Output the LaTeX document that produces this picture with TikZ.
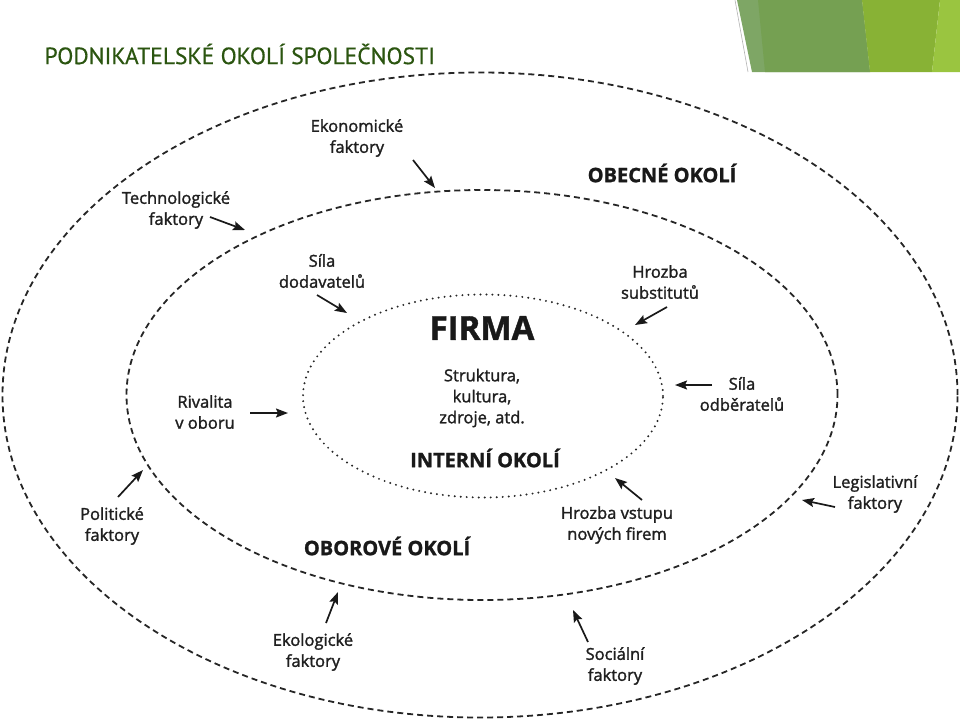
\documentclass[tikz,border=0pt]{standalone}
\usepackage{fontspec}
\setmainfont{Open Sans}
\newfontfamily\labelfont[FakeBold=1.6, BoldFeatures={FakeBold=1.2}]{Open Sans}
\newfontfamily\titlefont[FakeBold=0.5]{PT Sans}
\usetikzlibrary{shapes.geometric, arrows.meta, positioning}

\definecolor{titlegreen}{HTML}{2B5510}
\definecolor{band-a}{HTML}{7EA665}
\definecolor{band-b}{HTML}{75A052}
\definecolor{band-c}{HTML}{88B235}
\definecolor{band-d}{HTML}{9AC540}

\begin{document}
\begin{tikzpicture}[x=1pt, y=-1pt,
zone/.style={ellipse, draw=black!85, line width=1.8pt, inner sep=0pt, outer sep=0pt},
zone-dashed/.style={zone, dash pattern=on 6pt off 4pt},
zone-dotted/.style={zone, line width=2.2pt, dash pattern=on 0pt off 6pt, line cap=round},
factor/.style={align=center, font=\labelfont\fontsize{16.5}{21}\selectfont, text=black!88, inner sep=1pt},
heading/.style={font=\labelfont\bfseries\fontsize{20}{22}\selectfont, text=black!90},
line/.style={draw, black!90, line width=1.7pt, -{Stealth[length=12pt, width=9pt, inset=2pt]}}
]
\useasboundingbox (0,0) rectangle (960,720);

% green bands, top right
\fill [band-a] (737,0) -- (752,72) -- (870,72) -- (862,0) -- cycle;
\fill [band-b] (758,0) -- (765,72) -- (870,72) -- (862,0) -- cycle;
\fill [band-c] (862,0) -- (870,72) -- (932,72) -- (940,0) -- cycle;
\fill [band-d] (940,0) -- (932,72) -- (960,72) -- (960,0) -- cycle;
\draw [black!30, line width=0.6pt] (735,0) -- (748,72);

\node [anchor=west, text=titlegreen, font=\titlefont\fontsize{23.5}{25}\selectfont] (title) at (41,54) {PODNIKATELSKÉ OKOLÍ SPOLEČNOSTI};

% three zones
\node [zone-dashed, minimum width=955, minimum height=645] (obecne) at (480,395) {};
\node [zone-dashed, minimum width=711, minimum height=410] (oborove) at (482,395) {};
\node [zone-dotted, minimum width=360, minimum height=203] (interni) at (483,396) {};

\node [heading] (obecne-h) at (662,173) {OBECNÉ OKOLÍ};
\node [heading] (oborove-h) at (387,546) {OBOROVÉ OKOLÍ};
\node [heading] (interni-h) at (485,458) {INTERNÍ OKOLÍ};
\node [font=\labelfont\bfseries\fontsize{33}{35}\selectfont, text=black!90] (firma) at (482,328) {FIRMA};
\node [factor] (firma-body) at (482,398) {Struktura,\\kultura,\\zdroje, atd.};

% factors
\node [factor] (ekon) at (357,138) {Ekonomické\\faktory};
\node [factor] (tech) at (176,210) {Technologické\\faktory};
\node [factor] (dodav) at (322,271) {Síla\\dodavatelů};
\node [factor] (subst) at (660,282) {Hrozba\\substitutů};
\node [factor] (odber) at (742,394) {Síla\\odběratelů};
\node [factor] (rival) at (205,412) {Rivalita\\v oboru};
\node [factor] (polit) at (112,526) {Politické\\faktory};
\node [factor] (vstup) at (617,525) {Hrozba vstupu\\nových firem};
\node [factor] (legis) at (875,494) {Legislativní\\faktory};
\node [factor] (ekol) at (313,652) {Ekologické\\faktory};
\node [factor] (social) at (615,666) {Sociální\\faktory};

% arrow tips
\coordinate (ekon-tip) at (435,188);
\coordinate (tech-tip) at (245,230);
\coordinate (dodav-tip) at (347,313);
\coordinate (subst-tip) at (635,325);
\coordinate (odber-tip) at (675,385);
\coordinate (rival-tip) at (288,413);
\coordinate (polit-tip) at (143,470);
\coordinate (vstup-tip) at (615,478);
\coordinate (legis-tip) at (802,500);
\coordinate (ekol-tip) at (338,592);
\coordinate (social-tip) at (573,610);

\path [line] ([shift={(56,22)}]ekon.center) -- (ekon-tip);
\path [line] ([shift={(34,7)}]tech.center) -- (tech-tip);
\path [line] ([shift={(-5,24)}]dodav.center) -- (dodav-tip);
\path [line] ([shift={(7,25)}]subst.center) -- (subst-tip);
\path [line] ([shift={(-30,-9)}]odber.center) -- (odber-tip);
\path [line] ([shift={(45,1)}]rival.center) -- (rival-tip);
\path [line] ([shift={(6,-29)}]polit.center) -- (polit-tip);
\path [line] ([shift={(25,-25)}]vstup.center) -- (vstup-tip);
\path [line] ([shift={(-40,13)}]legis.center) -- (legis-tip);
\path [line] ([shift={(13,-29)}]ekol.center) -- (ekol-tip);
\path [line] ([shift={(-27,-24)}]social.center) -- (social-tip);

\end{tikzpicture}
\end{document}
